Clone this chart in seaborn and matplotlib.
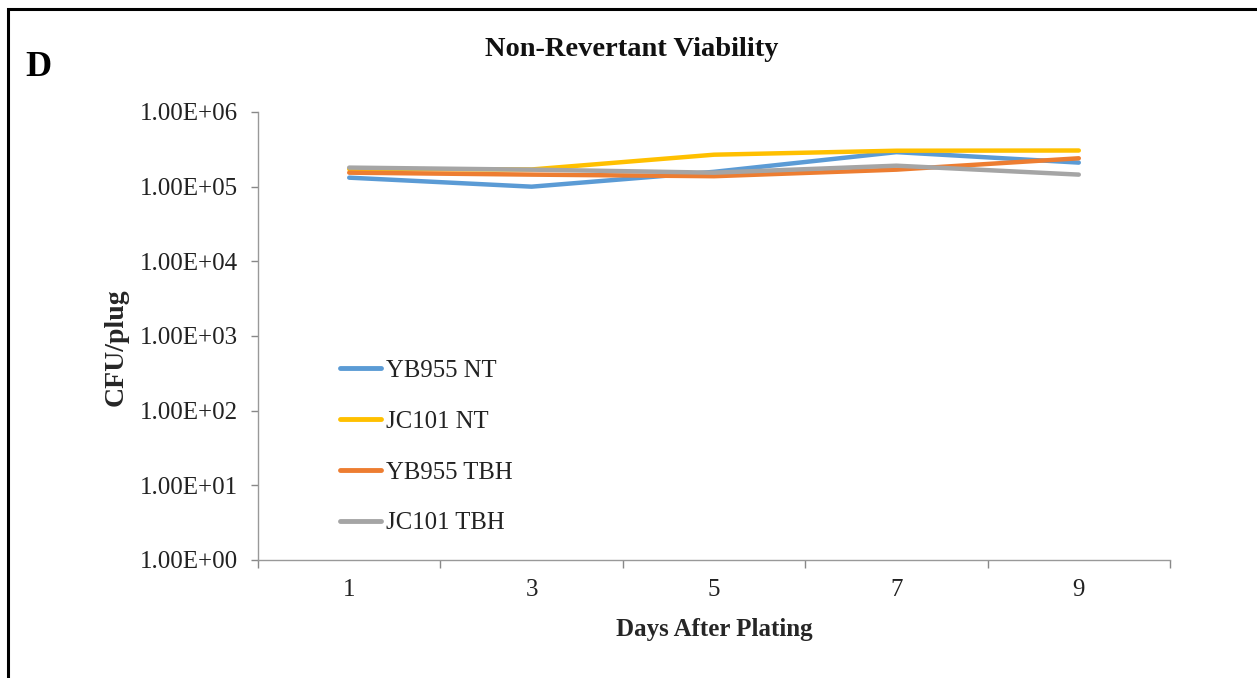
import numpy as np
import pandas as pd
import matplotlib
matplotlib.use("Agg")
import matplotlib.pyplot as plt
import seaborn as sns
from matplotlib.patches import Rectangle
from matplotlib.ticker import FixedLocator, NullFormatter, FuncFormatter

days = ["1", "3", "5", "7", "9"]
series_names = ["YB955 NT", "JC101 NT", "YB955 TBH", "JC101 TBH"]
yb955_nt = [1.32e5, 1.0e5, 1.58e5, 2.9e5, 2.1e5]
jc101_nt = [1.72e5, 1.70e5, 2.68e5, 3.03e5, 3.05e5]
yb955_tbh = [1.54e5, 1.45e5, 1.38e5, 1.69e5, 2.4e5]
jc101_tbh = [1.80e5, 1.69e5, 1.54e5, 1.91e5, 1.45e5]
colors = ["#5B9BD5", "#FFC000", "#ED7D31", "#A5A5A5"]

values = [yb955_nt, jc101_nt, yb955_tbh, jc101_tbh]
rows = []
for name, vals in zip(series_names, values):
    for i, (d, v) in enumerate(zip(days, vals)):
        rows.append({"pos": i, "day": d, "series": name, "cfu": v})
df = pd.DataFrame(rows)

sns.set_theme(style="white")
plt.rcParams["font.family"] = ["Liberation Serif", "DejaVu Serif"]

fig = plt.figure(figsize=(12.57, 6.78), dpi=100)
ax = fig.add_axes([258/1257, 1-560/678, (1170-258)/1257, (560-112)/678])

sns.lineplot(data=df, x="pos", y="cfu", hue="series", hue_order=series_names,
             palette=colors, linewidth=3.2, ax=ax, sort=False, legend=True)

ax.set_yscale("log")
ax.set_ylim(1, 1e6)
ax.set_xlim(-0.5, len(days) - 0.5)
ax.yaxis.set_major_locator(FixedLocator([10.0**k for k in range(7)]))
ax.yaxis.set_minor_locator(FixedLocator([]))
ax.yaxis.set_major_formatter(FuncFormatter(lambda v, p: "{:.2E}".format(v)))
ax.xaxis.set_major_locator(FixedLocator(np.arange(-0.5, len(days), 1.0)))
ax.xaxis.set_major_formatter(NullFormatter())
ax.xaxis.set_minor_locator(FixedLocator(np.arange(len(days))))
ax.set_xticklabels(days, minor=True)

ax.tick_params(axis="y", which="major", left=True, length=5, width=1, color="#888888",
               labelsize=18, labelcolor="#222222", pad=9.5)
ax.tick_params(axis="x", which="major", bottom=True, length=6, width=1, color="#888888")
ax.tick_params(axis="x", which="minor", bottom=False, length=0, labelsize=18,
               labelcolor="#222222", pad=14)

for s in ["top", "right"]:
    ax.spines[s].set_visible(False)
for s in ["left", "bottom"]:
    ax.spines[s].set_color("#999999")
    ax.spines[s].set_linewidth(1)

ax.set_xlabel("Days After Plating", fontsize=18, fontweight="bold", labelpad=12)
ax.set_ylabel("CFU/plug", fontsize=20, fontweight="bold")
ax.yaxis.set_label_coords((129-258)/912, (560-347)/448)

leg = ax.legend(loc="upper left", bbox_to_anchor=(0.079, 0.469), frameon=False,
                fontsize=17.8, handlelength=1.65, handletextpad=0.2, labelspacing=1.15,
                borderaxespad=0)
for line in leg.get_lines():
    line.set_linewidth(3.5)
for t in leg.get_texts():
    t.set_color("#222222")

fig.text(632/1257, 1-50/678, "Non-Revertant Viability", ha="center", va="center",
         fontsize=20.5, fontweight="bold", color="#111111")
fig.text(25/1257, 1-67/678, "D", ha="left", va="center", fontsize=26,
         fontweight="bold", color="black")

fig.add_artist(Rectangle((8/1257, -0.1), 1.2, 1.1 - 9/678, transform=fig.transFigure,
                         fill=False, edgecolor="black", linewidth=2.2, clip_on=False))

fig.savefig("out.png", dpi=100)
